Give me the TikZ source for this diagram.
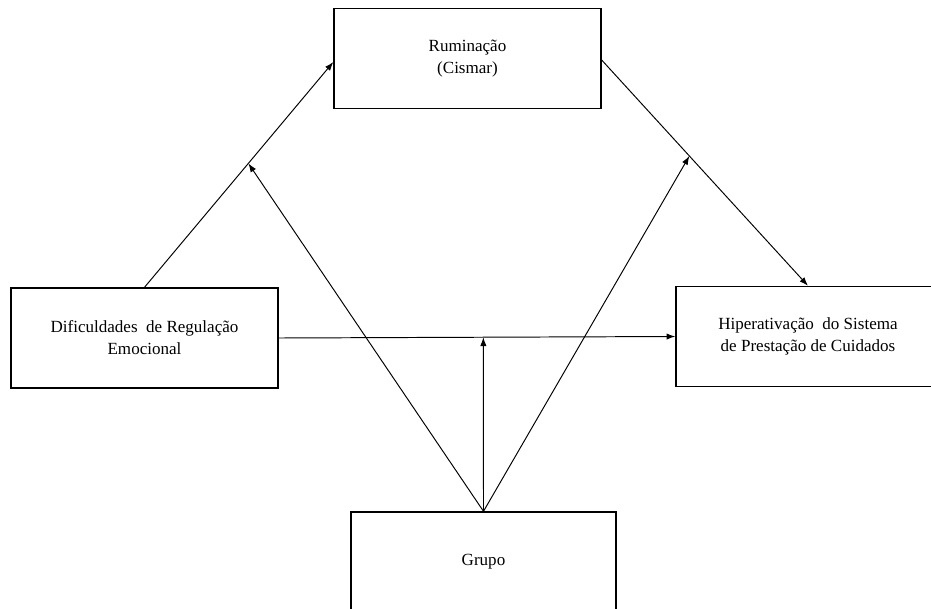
\documentclass[tikz,border=0pt]{standalone}
\usepackage{fontspec}
\setmainfont{Liberation Serif}
\usepackage{tikz}
\usetikzlibrary{arrows.meta,positioning}

\tikzset{
  caixa/.style={draw,line width=0.8pt,shape=rectangle,minimum width=5.34cm,minimum height=2cm,align=center,font=\fontsize{9.7}{12.5}\selectfont},
  seta/.style={line width=0.55pt,-{Latex[length=5pt,width=3.6pt]}}
}

\begin{document}
\begin{tikzpicture}[x=0.02cm,y=-0.02cm]

\useasboundingbox (0,0) rectangle (931,609);

\node[caixa] (rum) at (467.5,58.5){Ruminação\\(Cismar)};
\node[caixa] (dif) at (144.5,338){Dificuldades\ \ de Regulação\\Emocional};
\node[caixa,minimum width=5.28cm] (hip) at (808,336.5){Hiperativação\ \ do Sistema\\de Prestação de Cuidados};
\node[caixa,minimum width=5.3cm] (grupo) at (483.5,562){Grupo};

\draw[seta] (dif.north) -- coordinate[pos=0.55] (m1) ([yshift=-0.07cm]rum.west);
\draw[seta] ([yshift=-0.03cm]rum.east) -- coordinate[pos=0.425] (m2) (hip.north);
\draw[seta] (dif.east) -- coordinate[pos=0.516] (m3) (hip.west);
\draw[seta] (grupo.north) -- (m1);
\draw[seta] (grupo.north) -- (m2);
\draw[seta] (grupo.north) -- (m3);

\end{tikzpicture}
\end{document}
